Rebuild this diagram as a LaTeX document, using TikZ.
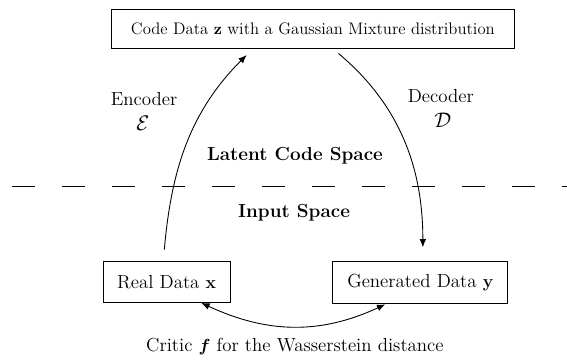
\documentclass[tikz,border=0pt]{standalone}
\usepackage{amsmath,amssymb,bm}
\usetikzlibrary{arrows.meta, positioning}
\tikzset{
  >={Latex[width=1.6mm,length=2mm]},
  base/.style = {rectangle, draw=black, semithick, text centered},
  codebox/.style = {base, minimum width=9.67cm, minimum height=0.94cm,
                    font=\fontsize{11.4}{13.7}\selectfont},
  databox/.style = {base, minimum height=0.98cm},
  opsym/.style = {font=\fontsize{15}{18}\selectfont},
  flow/.style = {->, semithick},
  divider/.style = {semithick, dash pattern=on 0.552cm off 0.648cm, dash phase=0.912cm},
}

\begin{document}
\begin{tikzpicture}[align=center, font=\fontsize{12.9}{15.5}\selectfont]
  \useasboundingbox (0,0) rectangle (13.61,8.69);

  % boxes
  \node (code) [codebox] at (7.51,8.00) {Code Data $\mathbf{z}$ with a Gaussian Mixture distribution};
  \node (real) [databox, minimum width=3.05cm] at (4.0,1.92) {Real Data $\mathbf{x}$};
  \node (gen) [databox, minimum width=4.2cm, minimum height=1.03cm] at (10.09,1.91) {Generated Data $\mathbf{y}$};

  % labels
  \node (enc) at (3.46,6.31) {Encoder};
  \node (encsym) [opsym] at (3.43,5.74) {$\mathcal{E}$};
  \node (dec) at (10.58,6.38) {Decoder};
  \node (decsym) [opsym] at (10.63,5.81) {$\mathcal{D}$};
  \node (latent) at (7.08,4.94) {\textbf{Latent Code Space}};
  \node (input) at (7.06,3.58) {\textbf{Input Space}};
  \node (critic) at (7.08,0.38) {Critic $\bm{f}$ for the Wasserstein distance};

  % split line
  \coordinate (lft) at (0,4.22);
  \coordinate (rgt) at (13.61,4.22);
  \draw[divider] (lft) -- (rgt);

  % arrows
  \draw[flow, shorten <=8pt, shorten >=6pt] ([xshift=-0.08cm]real.north) to[out=85, in=225] ([xshift=-1.44cm]code.south);
  \draw[flow, shorten <=5pt, shorten >=9pt] ([xshift=0.48cm]code.south) to[out=-40, in=90] ([xshift=0.06cm]gen.north);
  \draw[<->, semithick] (real.-31) to[out=-25, in=-155] (gen.-148);
\end{tikzpicture}
\end{document}
